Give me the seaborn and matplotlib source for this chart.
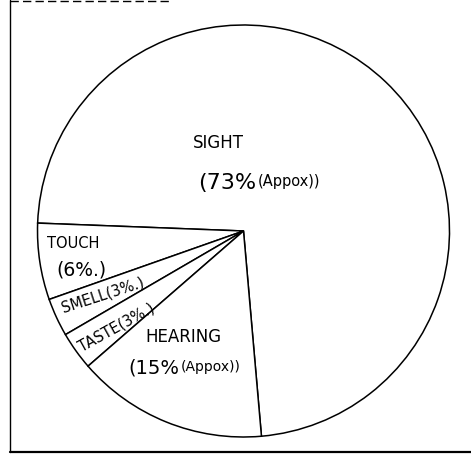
#!/usr/bin/env python3
"""
Hand-drawn style pie chart: share of learning through each sense
"""

import matplotlib
matplotlib.use('Agg')
import matplotlib.pyplot as plt
import seaborn as sns

# Data
senses = ['SIGHT', 'TOUCH', 'SMELL', 'TASTE', 'HEARING']
shares = [73, 6, 3, 3, 15]

sns.set_style('white')
plt.rcParams['font.family'] = ['DejaVu Sans']

W, H = 471, 456
fig = plt.figure(figsize=(W / 100, H / 100), dpi=100)
ax = fig.add_axes([0, 0, 1, 1])

# pie in pixel-like coordinates (y flipped so the top of the image is H)
ax.pie(
    shares,
    center=(243.5, H - 232),
    radius=206,
    startangle=-85,
    counterclock=True,
    colors=['white'] * len(shares),
    wedgeprops={'edgecolor': 'black', 'linewidth': 1.1},
    frame=True,
)
ax.set_xlim(0, W)
ax.set_ylim(0, H)
ax.set_aspect('equal')
ax.axis('off')

# rough border like the scanned page
ax.plot([10, 10], [H - 1, H - 453], color='black', lw=1.0)
ax.plot([10, W], [H - 453, H - 453], color='black', lw=1.6)
ax.plot([10, 170], [H - 1.5, H - 1.5], color='black', lw=1.0, ls=(0, (6, 3)))

txt = dict(color='black', va='center')


def two_part(x, y, big, small, big_size, small_size):
    # "(73%" followed right away by a smaller "(Appox))"
    t = ax.text(x, y, big, fontsize=big_size, ha='left', **txt)
    ax.annotate(small, xy=(1, 0.5), xycoords=t, xytext=(1, 1),
                textcoords='offset points', fontsize=small_size,
                ha='left', **txt)


# SIGHT
ax.text(193, H - 143, 'SIGHT', fontsize=12, ha='left', **txt)
two_part(198, H - 183, '(73%', '(Appox))', 16, 10.5)

# TOUCH
ax.text(47, H - 243, 'TOUCH', fontsize=10.5, ha='left', **txt)
ax.text(56, H - 270, '(6%.)', fontsize=13.5, ha='left', **txt)

# SMELL / TASTE, written along the thin wedges
ax.text(103, H - 295, 'SMELL(3%.)', fontsize=10.5, ha='center', rotation=18,
        rotation_mode='anchor', **txt)
ax.text(117, H - 327, 'TASTE(3%.)', fontsize=10.5, ha='center', rotation=29,
        rotation_mode='anchor', **txt)

# HEARING
ax.text(145, H - 337, 'HEARING', fontsize=12, ha='left', **txt)
two_part(128, H - 368, '(15%', '(Appox))', 14, 10)

fig.savefig('out.png', dpi=100, facecolor='white')
